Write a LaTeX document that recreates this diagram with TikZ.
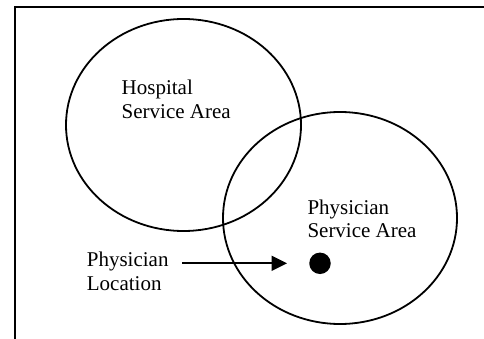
\documentclass[tikz,border=0pt]{standalone}
\usepackage{fontspec}
\setmainfont{Liberation Serif}
\usetikzlibrary{shapes.geometric,arrows.meta}
\tikzset{
  area/.style={draw, ellipse, line width=1.8pt, inner sep=0pt, minimum width=#1},
  lbl/.style={anchor=base west, align=left, inner sep=0pt, font=\fontsize{21}{23.5}\selectfont},
  pointer/.style={line width=1.8pt, -{Triangle[length=15.5pt,width=15pt]}},
  frameline/.style={line width=2.2pt, line join=miter}
}
\begin{document}
\begin{tikzpicture}[x=1pt,y=-1pt]
\useasboundingbox (0,0) rectangle (484,339);
\draw[frameline] (15,340) -- (15,6.7) -- (485,6.7);
\node[area=235pt, minimum height=212pt] (hsa) at (183.5,125) {};
\node[area=234pt, minimum height=212pt] (psa) at (340,218) {};
\node[lbl] (hsatext) at (121.5,118.3) {Hospital\\Service Area};
\node[lbl] (psatext) at (307.3,237.7) {Physician\\Service Area};
\node[lbl] (loc) at (86.7,290) {Physician\\Location};
\node[circle, fill=black, inner sep=0pt, minimum size=21.5pt] (dot) at (320,263.3) {};
\draw[pointer] ([xshift=13.3pt]loc.east |- dot.center) -- ([xshift=-33pt]dot.center);
\end{tikzpicture}
\end{document}
